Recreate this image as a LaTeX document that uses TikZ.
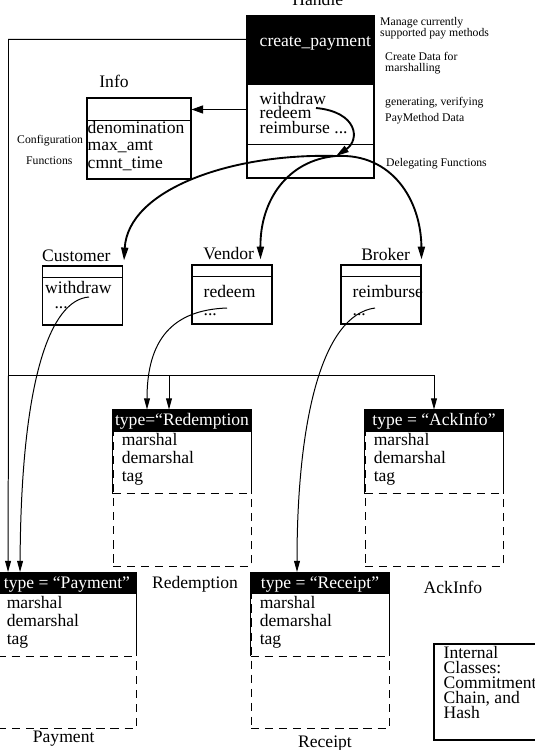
\documentclass[tikz,border=0pt]{standalone}
\usepackage{fontspec}
\setmainfont{Liberation Serif}
\usetikzlibrary{calc}
\usetikzlibrary{positioning}
\usetikzlibrary{arrows.meta}
\newcommand{\bigtxt}{\fontsize{15}{15.3}\selectfont}
\newcommand{\smalltxt}{\fontsize{10}{9.4}\selectfont}

\begin{document}
\begin{tikzpicture}[x=0.3mm, y=-0.3mm, inner sep=0pt, font=\bigtxt,
    cls/.style={draw, line width=0.9pt, minimum width=2.4cm, minimum height=1.77cm},
    obj/.style={draw, line width=0.8pt, dash pattern=on 7pt off 5pt, minimum width=4.14cm, minimum height=4.68cm},
    note/.style={font=\smalltxt, align=left},
    link/.style={line width=0.85pt, -{Triangle[length=9.5pt,width=5pt]}},
    call/.style={line width=1.6pt, -{Triangle[length=11pt,width=6pt]}}]
    \useasboundingbox (0,0) rectangle (534,750);

    % Handle
    \node[cls, minimum width=3.81cm, minimum height=4.86cm] (handle) at (310.5,97) {};
    \fill (handle.north west) rectangle ($(handle.north east)+(0,70)$);
    \draw[line width=0.9pt] ($(handle.south west)+(0,-34)$) -- ($(handle.south east)+(0,-34)$);
    \node[anchor=base west, text=white] (create) at ($(handle.north west)+(13,31)$) {create\_payment};
    \node[anchor=north west, align=left, font=\fontsize{15}{12}\selectfont] (hfun) at ($(handle.north west)+(13,77)$) {withdraw\\redeem\\reimburse ...};
    \node[above=0.3cm of handle, xshift=0.22cm] (handlelbl) {Handle};
    \node[note, anchor=north west] (manage) at (380,17) {Manage currently\\supported pay methods};
    \node[note, anchor=north west] (marsh) at (385,52) {Create Data for\\marshalling};
    \node[note, anchor=north west, font=\fontsize{10}{13.6}\selectfont] (gen) at (385,97) {generating, verifying\\PayMethod Data};
    \node[note, anchor=base west] (delegtxt) at (386,166) {Delegating Functions};

    % Info
    \node[cls, minimum width=3.12cm, minimum height=2.43cm] (info) at (139,138.5) {};
    \draw[line width=0.9pt] ($(info.north west)+(0,23)$) -- ($(info.north east)+(0,23)$);
    \node[anchor=north west, align=left, font=\fontsize{15}{15}\selectfont] (infofun) at ($(info.north west)+(1,23.5)$) {denomination\\max\_amt\\cmnt\_time};
    \node[above=0.3cm of info, xshift=-0.75cm] (infolbl) {Info};
    \node[note, anchor=base west] (config) at (17,143) {Configuration};
    \node[note, anchor=base west] (funcs) at (26,164) {Functions};

    % Customer, Vendor, Broker
    \node[cls] (cust) at (82.5,295.5) {};
    \node[cls] (vend) at (232,294.5) {};
    \node[cls] (brok) at (381,294.5) {};
    \foreach \c in {cust,vend,brok}
        \draw[line width=0.9pt] ($(\c.north west)+(0,12)$) -- ($(\c.north east)+(0,12)$);
    \node[above right=0.12cm and 0cm of cust.north west] (custlbl) {Customer};
    \node[above=0.12cm of vend, xshift=-0.1cm] (vendlbl) {Vendor};
    \node[above=0.12cm of brok, xshift=0.14cm] (broklbl) {Broker};
    \node[anchor=north west, align=left, font=\fontsize{15}{12.75}\selectfont] (custfun) at ($(cust.north west)+(3,16)$) {withdraw\\\hspace{8pt}...};
    \node[anchor=north west, align=left] (vendfun) at ($(vend.north west)+(12,21)$) {redeem\\...};
    \node[anchor=north west, align=left] (brokfun) at ($(brok.north west)+(12,21)$) {reimburse\\...};

    % pay method data
    \node[obj] (red) at (182,488) {};
    \node[obj] (ack) at (434,488) {};
    \node[obj] (pay) at (67,650.5) {};
    \node[obj] (rec) at (320,650.5) {};
    \foreach \o/\t in {red/{type=“Redemption}, ack/{type = “AckInfo”}, pay/{type = “Payment”}, rec/{type = “Receipt”}} {
        \fill (\o.north west) rectangle ($(\o.north east)+(0,22)$);
        \draw[line width=0.9pt] ($(\o.north west)+(0,84)$) -- (\o.north west) -- (\o.north east) -- ($(\o.north east)+(0,84)$);
        \draw[line width=0.8pt, dash pattern=on 7pt off 5pt] ($(\o.north west)+(0,84)$) -- ($(\o.north east)+(0,84)$);
        \node[anchor=base, text=white] (\o-type) at ($(\o.north)+(0,16)$) {\t};
        \node[anchor=north west, align=left] (\o-ops) at ($(\o.north west)+(9,24)$) {marshal\\demarshal\\tag};
    }
    \node[below=0.3cm of red, xshift=0.39cm] (redlbl) {Redemption};
    \node[below=0.42cm of ack, xshift=0.57cm] (acklbl) {AckInfo};
    \node[below=0.05cm of pay, xshift=-0.1cm] (paylbl) {Payment};
    \node[below=0.21cm of rec, xshift=0.15cm] (reclbl) {Receipt};

    \node[draw, line width=0.9pt, minimum width=3.33cm, minimum height=2.88cm] (internal) at (489.5,692) {};
    \node[anchor=north west, align=left, font=\fontsize{15}{12.75}\selectfont] (inttxt) at ($(internal.north west)+(10,3)$) {Internal\\Classes:\\Commitment\\Chain, and\\Hash};

    % connectors
    \coordinate (bus) at (8.5,375);
    \draw[link] ($(handle.north west)+(0,24)$) -| (bus) -- ($(pay.north west)+(10.5,0)$);
    \draw[link] (bus) -| (ack.north);
    \draw[link] (bus) -| ($(red.north)+(-13,0)$);
    \coordinate (infoin) at ($(info.north east)+(0,12)$);
    \draw[link, -{Triangle[length=10pt,width=7pt]}] (handle.west |- infoin) -- (infoin);

    \coordinate (wd) at (316,108);
    \coordinate (split) at (336,156);
    \draw[call] (wd) .. controls (358,112) and (360,140) .. (split);
    \draw[call] (split) .. controls (230,153) and (128,190) .. ($(cust.north east)+(1,-5)$);
    \draw[call] (split) .. controls (288,160) and (260,200) .. ($(vend.north east)+(-12,-5)$);
    \draw[call] (split) .. controls (392,153) and (421,200) .. ($(brok.north east)+(0,-5)$);

    \coordinate (custout) at (89,297);
    \coordinate (vendout) at (227,308);
    \coordinate (brokout) at (375,308);
    \draw[link] (custout) .. controls (50,300) and (21,380) .. ($(pay.north west)+(22.5,0)$);
    \draw[link] (vendout) .. controls (172,310) and (147,340) .. ($(red.north)+(-35,0)$);
    \draw[link] (brokout) .. controls (322,315) and (297,420) .. ($(rec.north)+(-23,0)$);
\end{tikzpicture}
\end{document}
